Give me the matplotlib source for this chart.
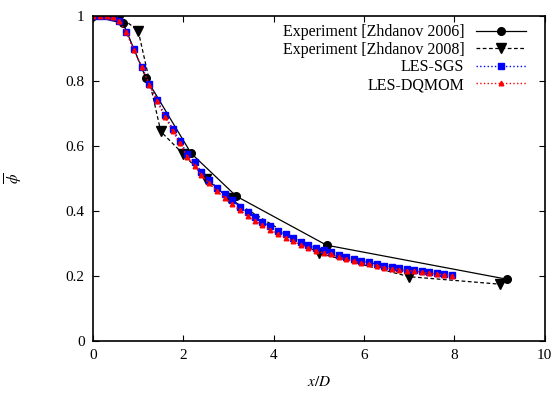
# 标量混合分数沿轴线衰减 — 实验 vs LES
import matplotlib
matplotlib.use('Agg')
import matplotlib.pyplot as plt
import numpy as np

plt.rcParams['font.family'] = ['Liberation Serif', 'DejaVu Serif']
plt.rcParams['mathtext.fontset'] = 'stix'
plt.rcParams['font.size'] = 11

# 实验数据
exp06_x = [0.0, 0.67, 1.17, 2.17, 3.17, 5.17, 9.17]
exp06_y = [1.0, 0.978, 0.81, 0.578, 0.446, 0.295, 0.19]

exp08_x = [0.0, 0.6, 1.0, 1.5, 2.0, 2.5, 3.0, 5.0, 7.0, 9.0]
exp08_y = [1.0, 0.998, 0.955, 0.645, 0.575, 0.50, 0.44, 0.27, 0.198, 0.175]

# LES 结果
les_x = [0.0, 0.16, 0.31, 0.45, 0.57, 0.74, 0.90, 1.08, 1.25, 1.42, 1.59, 1.76,
         1.92, 2.09, 2.25, 2.40, 2.57, 2.74, 2.92, 3.07, 3.25, 3.43, 3.59, 3.75,
         3.92, 4.10, 4.27, 4.43, 4.60, 4.76, 4.93, 5.11, 5.27, 5.44, 5.60, 5.77,
         5.93, 6.10, 6.28, 6.45, 6.61, 6.78, 6.95, 7.11, 7.29, 7.44, 7.61, 7.78,
         7.95]
sgs_y = [1.0, 1.0, 1.0, 0.997, 0.986, 0.952, 0.898, 0.844, 0.791, 0.742, 0.695,
         0.654, 0.616, 0.576, 0.55, 0.521, 0.497, 0.472, 0.451, 0.434, 0.413,
         0.396, 0.382, 0.367, 0.354, 0.339, 0.328, 0.318, 0.306, 0.295, 0.287,
         0.28, 0.275, 0.265, 0.259, 0.251, 0.247, 0.242, 0.237, 0.231, 0.227,
         0.224, 0.221, 0.218, 0.215, 0.212, 0.21, 0.207, 0.203]
dqmom_y = [1.0, 1.0, 1.0, 0.996, 0.984, 0.950, 0.896, 0.842, 0.789, 0.738, 0.690,
           0.648, 0.608, 0.567, 0.540, 0.510, 0.486, 0.461, 0.440, 0.423, 0.402,
           0.384, 0.370, 0.356, 0.343, 0.328, 0.317, 0.307, 0.296, 0.286, 0.278,
           0.271, 0.267, 0.258, 0.252, 0.245, 0.241, 0.236, 0.232, 0.226, 0.223,
           0.220, 0.217, 0.215, 0.212, 0.209, 0.207, 0.204, 0.201]

fig = plt.figure(figsize=(5.57, 3.94), dpi=100)
ax = fig.add_axes([0.167, 0.1345, 0.811, 0.8245])

ax.plot(exp06_x, exp06_y, '-', color='black', lw=0.9, marker='o', ms=5.5,
        label='Experiment [Zhdanov 2006]')
ax.plot(exp08_x, exp08_y, '--', color='black', lw=0.9, marker='v', ms=7,
        dashes=(3, 2), label='Experiment [Zhdanov 2008]')
ax.plot(les_x, sgs_y, ':', color='blue', lw=1.0, marker='s', ms=4,
        label='LES-SGS')
ax.plot(les_x, dqmom_y, ':', color='red', lw=1.0, marker='^', ms=3.3,
        label='LES-DQMOM')

ax.set_xlim(0, 10)
ax.set_ylim(0, 1)
ax.set_xticks([0, 2, 4, 6, 8, 10])
ax.set_yticks([0, 0.2, 0.4, 0.6, 0.8, 1.0])
ax.set_yticklabels(['0', '0.2', '0.4', '0.6', '0.8', '1'])
ax.tick_params(direction='in', length=4, width=0.8, top=True, right=True, pad=6)
for s in ax.spines.values():
    s.set_linewidth(1.2)

ax.set_xlabel('$x/D$')
ax.set_ylabel(r'$\overline{\phi}$')
ax.xaxis.set_label_coords(0.5, -0.105)
ax.yaxis.set_label_coords(-0.15, 0.5)

ax.legend(loc='upper right', bbox_to_anchor=(0.958, 0.975), frameon=False,
          markerfirst=False, handlelength=3.1, fontsize=11.5,
          labelspacing=0.1, borderaxespad=0, borderpad=0, handletextpad=0.75)

fig.savefig('out.png', dpi=100)
